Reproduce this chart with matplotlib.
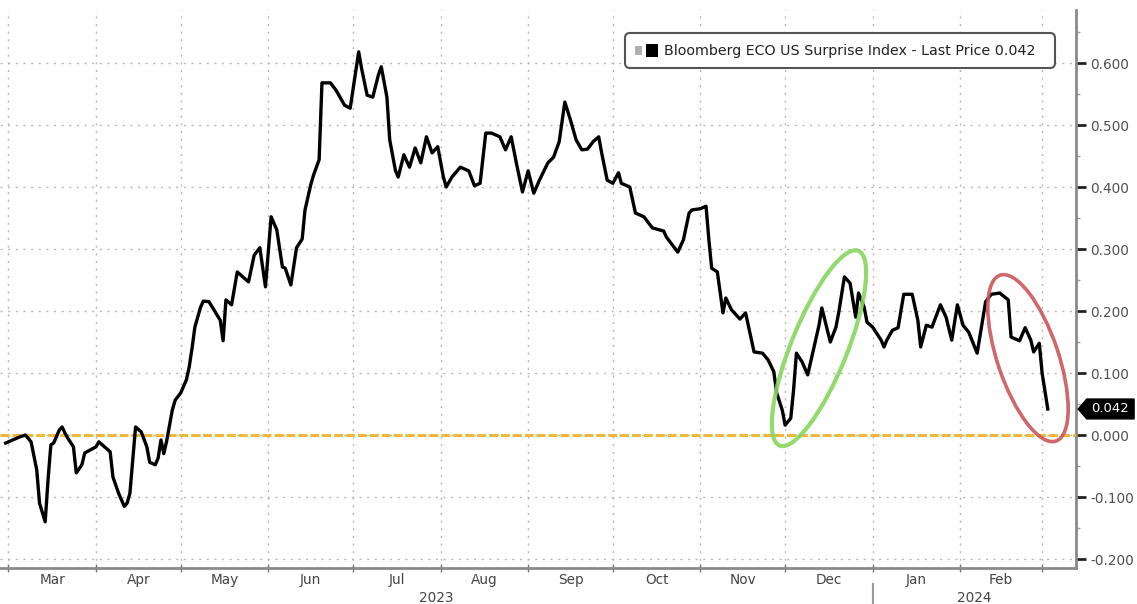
import pandas as pd
import matplotlib
matplotlib.use("Agg")
import matplotlib.pyplot as plt
import matplotlib.dates as mdates
from matplotlib.ticker import MultipleLocator, FixedLocator
from matplotlib.patches import Ellipse, Polygon, FancyBboxPatch, Rectangle
from matplotlib.transforms import ScaledTranslation

# Bloomberg ECO US Surprise Index, daily readings
dates = [
    "2023-02-28", "2023-03-05", "2023-03-07", "2023-03-09", "2023-03-11", "2023-03-12",
    "2023-03-14", "2023-03-15", "2023-03-16", "2023-03-17", "2023-03-19", "2023-03-20",
    "2023-03-21", "2023-03-22", "2023-03-24", "2023-03-25", "2023-03-27", "2023-03-28",
    "2023-03-30", "2023-04-01", "2023-04-02", "2023-04-04", "2023-04-06", "2023-04-07",
    "2023-04-09", "2023-04-11", "2023-04-12", "2023-04-13", "2023-04-14", "2023-04-15",
    "2023-04-17", "2023-04-19", "2023-04-20", "2023-04-22", "2023-04-23", "2023-04-24",
    "2023-04-25", "2023-04-26", "2023-04-28", "2023-04-29", "2023-05-01", "2023-05-03",
    "2023-05-04", "2023-05-05", "2023-05-06", "2023-05-08", "2023-05-09", "2023-05-11",
    "2023-05-13", "2023-05-15", "2023-05-16", "2023-05-17", "2023-05-19", "2023-05-21",
    "2023-05-23", "2023-05-25", "2023-05-27", "2023-05-29", "2023-05-31", "2023-06-02",
    "2023-06-04", "2023-06-06", "2023-06-07", "2023-06-09", "2023-06-11", "2023-06-13",
    "2023-06-14", "2023-06-16", "2023-06-17", "2023-06-19", "2023-06-20", "2023-06-23",
    "2023-06-25", "2023-06-28", "2023-06-30", "2023-07-03", "2023-07-04", "2023-07-06",
    "2023-07-08", "2023-07-10", "2023-07-11", "2023-07-13", "2023-07-14", "2023-07-16",
    "2023-07-17", "2023-07-19", "2023-07-21", "2023-07-23", "2023-07-25", "2023-07-27",
    "2023-07-29", "2023-07-31", "2023-08-02", "2023-08-03", "2023-08-05", "2023-08-08",
    "2023-08-11", "2023-08-13", "2023-08-15", "2023-08-17", "2023-08-19", "2023-08-22",
    "2023-08-24", "2023-08-26", "2023-08-28", "2023-08-30", "2023-09-01", "2023-09-03",
    "2023-09-05", "2023-09-08", "2023-09-10", "2023-09-12", "2023-09-14", "2023-09-16",
    "2023-09-18", "2023-09-20", "2023-09-22", "2023-09-24", "2023-09-26", "2023-09-27",
    "2023-09-29", "2023-10-01", "2023-10-03", "2023-10-04", "2023-10-07", "2023-10-09",
    "2023-10-12", "2023-10-15", "2023-10-19", "2023-10-20", "2023-10-24", "2023-10-26",
    "2023-10-28", "2023-10-29", "2023-11-01", "2023-11-03", "2023-11-04", "2023-11-05",
    "2023-11-07", "2023-11-09", "2023-11-10", "2023-11-12", "2023-11-15", "2023-11-17",
    "2023-11-20", "2023-11-23", "2023-11-25", "2023-11-27", "2023-11-28", "2023-11-30",
    "2023-12-01", "2023-12-03", "2023-12-04", "2023-12-05", "2023-12-07", "2023-12-09",
    "2023-12-11", "2023-12-13", "2023-12-14", "2023-12-17", "2023-12-19", "2023-12-20",
    "2023-12-22", "2023-12-24", "2023-12-26", "2023-12-27", "2023-12-29", "2023-12-30",
    "2024-01-01", "2024-01-04", "2024-01-05", "2024-01-06", "2024-01-08", "2024-01-10",
    "2024-01-12", "2024-01-15", "2024-01-17", "2024-01-18", "2024-01-20", "2024-01-22",
    "2024-01-25", "2024-01-27", "2024-01-29", "2024-01-31", "2024-02-02", "2024-02-04",
    "2024-02-07", "2024-02-10", "2024-02-12", "2024-02-15", "2024-02-18", "2024-02-19",
    "2024-02-22", "2024-02-24", "2024-02-26", "2024-02-27", "2024-02-29", "2024-03-01",
    "2024-03-03",
]
values = [
    -0.013, -0.003, 0.000, -0.011, -0.056, -0.110,
    -0.140, -0.073, -0.016, -0.013, 0.008, 0.013,
    0.003, -0.005, -0.019, -0.061, -0.048, -0.029,
    -0.024, -0.019, -0.011, -0.019, -0.027, -0.068,
    -0.094, -0.115, -0.110, -0.094, -0.040, 0.013,
    0.005, -0.019, -0.044, -0.048, -0.037, -0.008,
    -0.030, -0.010, 0.040, 0.056, 0.068, 0.089,
    0.110, 0.140, 0.174, 0.206, 0.216, 0.215,
    0.200, 0.185, 0.152, 0.218, 0.210, 0.263,
    0.255, 0.247, 0.290, 0.302, 0.239, 0.352,
    0.331, 0.271, 0.269, 0.242, 0.302, 0.316,
    0.363, 0.403, 0.419, 0.444, 0.568, 0.568,
    0.556, 0.532, 0.527, 0.618, 0.592, 0.548,
    0.545, 0.581, 0.594, 0.545, 0.476, 0.427,
    0.416, 0.452, 0.432, 0.463, 0.439, 0.481,
    0.455, 0.465, 0.416, 0.400, 0.416, 0.432,
    0.426, 0.402, 0.406, 0.487, 0.487, 0.481,
    0.460, 0.481, 0.435, 0.392, 0.426, 0.390,
    0.411, 0.439, 0.448, 0.473, 0.537, 0.508,
    0.476, 0.460, 0.461, 0.473, 0.481, 0.456,
    0.411, 0.406, 0.423, 0.406, 0.400, 0.358,
    0.352, 0.334, 0.329, 0.319, 0.295, 0.315,
    0.358, 0.363, 0.365, 0.369, 0.315, 0.269,
    0.263, 0.197, 0.221, 0.202, 0.187, 0.197,
    0.134, 0.132, 0.121, 0.102, 0.068, 0.040,
    0.016, 0.027, 0.073, 0.132, 0.118, 0.097,
    0.137, 0.177, 0.205, 0.150, 0.174, 0.198,
    0.255, 0.245, 0.190, 0.229, 0.206, 0.182,
    0.174, 0.153, 0.142, 0.153, 0.169, 0.173,
    0.227, 0.227, 0.185, 0.142, 0.177, 0.174,
    0.210, 0.190, 0.153, 0.210, 0.177, 0.166,
    0.132, 0.215, 0.227, 0.229, 0.218, 0.158,
    0.152, 0.173, 0.153, 0.134, 0.148, 0.100,
    0.042,
]
last_price = 0.042
series_name = "Bloomberg ECO US Surprise Index - Last Price"
y_ticks = [-0.2, -0.1, 0.0, 0.1, 0.2, 0.3, 0.4, 0.5, 0.6]

x = pd.to_datetime(dates)
xmin, xmax = pd.Timestamp("2023-02-26"), pd.Timestamp("2024-03-13")

fig = plt.figure(figsize=(11.37, 6.04), dpi=100)
ax = fig.add_axes([0, 36 / 604, 1076 / 1137, 558 / 604])

ax.plot(x, values, color="black", lw=2.4, solid_joinstyle="round", zorder=4)
ax.axhline(0, color="#efb83a", lw=2.2, dashes=(2.9, 1.0), zorder=3)

ax.set_xlim(xmin, xmax)
ax.set_ylim(-0.2145, 0.6855)

# y axis on the right
ax.yaxis.tick_right()
ax.yaxis.set_major_locator(FixedLocator(y_ticks))
ax.yaxis.set_major_formatter(plt.FuncFormatter(lambda v, p: f"{v:.3f}"))
ax.yaxis.set_minor_locator(MultipleLocator(0.05))
ax.tick_params(axis="y", which="major", direction="out", length=7, width=2,
               color="#222222", labelsize=9.8, labelcolor="#505050", pad=3)
ax.tick_params(axis="y", which="minor", direction="out", length=3, width=1,
               color="#999999")

# month ticks, labels drawn separately
ax.xaxis.set_major_locator(mdates.MonthLocator())
ax.tick_params(axis="x", which="major", direction="inout", length=6, width=1,
               color="#777777", labelbottom=False)

ax.grid(True, which="major", color="#b8b8b8", lw=1, linestyle=(0, (1.5, 4)))
for side in ("left", "top"):
    ax.spines[side].set_visible(False)
for side in ("bottom", "right"):
    ax.spines[side].set_color("#8a8a8a")
    ax.spines[side].set_linewidth(2)

xt = ax.get_xaxis_transform()
for m in pd.date_range("2023-02-01", "2024-03-01", freq="MS"):
    a = max(m, xmin)
    b = min(m + pd.offsets.MonthBegin(1), xmax)
    if (b - a).days >= 20:
        ax.text(a + (b - a) / 2, -0.022, m.strftime("%b"), transform=xt,
                ha="center", va="center", fontsize=9.8, color="#444444")

for yr in (2023, 2024):
    a = max(pd.Timestamp(f"{yr}-01-01"), xmin)
    b = min(pd.Timestamp(f"{yr + 1}-01-01"), xmax)
    ax.text(a + (b - a) / 2, -0.054, str(yr), transform=xt, ha="center",
            va="center", fontsize=9.8, color="#444444")

jan1 = pd.Timestamp("2024-01-01")
ax.plot([jan1, jan1], [-0.028, -0.08], transform=xt, color="#999999", lw=1.5,
        clip_on=False)

# legend box
fig.add_artist(FancyBboxPatch((6.25, 5.36), 4.30, 0.35,
                              boxstyle="round,pad=0,rounding_size=0.05",
                              transform=fig.dpi_scale_trans, facecolor="white",
                              edgecolor="#555555", lw=1.5, zorder=5))
fig.add_artist(Rectangle((6.35, 5.495), 0.07, 0.08, transform=fig.dpi_scale_trans,
                         facecolor="#b0b0b0", edgecolor="none", zorder=6))
fig.add_artist(Rectangle((6.46, 5.475), 0.12, 0.12, transform=fig.dpi_scale_trans,
                         facecolor="black", edgecolor="none", zorder=6))
fig.text(6.64 / 11.37, 1 - 0.51 / 6.04, f"{series_name} {last_price:.3f}",
         ha="left", va="center", fontsize=10.3, color="#222222", zorder=6)

# last price tag on the right axis
yt = ax.get_yaxis_transform()
h = 0.016
tag = Polygon([(1.002, last_price), (1.010, last_price + h), (1.054, last_price + h),
               (1.054, last_price - h), (1.010, last_price - h)],
              closed=True, transform=yt, facecolor="black", edgecolor="black",
              clip_on=False, zorder=6)
ax.add_patch(tag)
ax.text(1.032, last_price, f"{last_price:.3f}", transform=yt, ha="center",
        va="center", fontsize=9.5, color="white", clip_on=False, zorder=7)

# highlight ellipses, sized in inches around a data anchor
def ring(center_date, center_val, w, h, angle, color, lw):
    tr = fig.dpi_scale_trans + ScaledTranslation(
        mdates.date2num(pd.Timestamp(center_date)), center_val, ax.transData)
    e = Ellipse((0, 0), w, h, angle=angle, transform=tr, fill=False,
                edgecolor=color, lw=lw, alpha=0.9, zorder=5)
    fig.add_artist(e)

ring("2023-12-13", 0.140, 2.10, 0.56, 68, "#86d65e", 3.0)
ring("2024-02-25", 0.124, 1.75, 0.61, 108.6, "#c9575a", 2.6)

fig.savefig("out.png", dpi=100, facecolor="white")
